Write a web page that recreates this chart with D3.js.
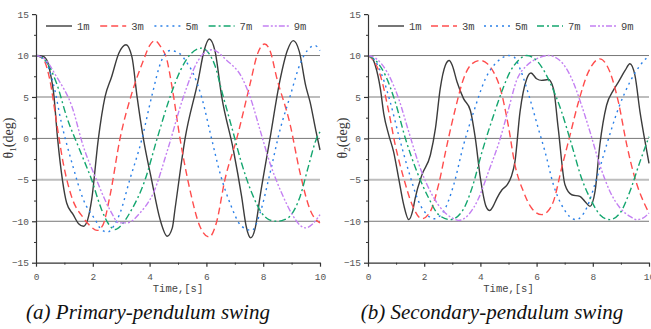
<!DOCTYPE html>
<html>
<head>
<meta charset="utf-8">
<script src="https://cdn.jsdelivr.net/npm/d3@7/dist/d3.min.js"></script>
<style>
  body { margin: 0; background: #fff; }
</style>
</head>
<body>
<svg id="chart" width="651" height="329"></svg>
<script>
// series names + styles
var lengths = ["1m", "3m", "5m", "7m", "9m"];
var colors = ["#3c3c3c", "#ff4d4d", "#2b80e8", "#14a66f", "#c480f2"];
var dashes = [null, "7,4", "2,4", "7,3,2,3", "6,2,2,2,2,2"];

var yTicks = [-15, -10, -5, 0, 5, 10, 15];
var yMinor = [-12.5, -7.5, -2.5, 2.5, 7.5, 12.5];
var xTicks = [0, 2, 4, 6, 8, 10];
var xMinor = [1, 3, 5, 7, 9];
var gridDark = [10, 0, -10];
var gridLight = [5, -5];

// (a) primary pendulum, [time s, angle deg]
var primary1m = [[0,10],[0.25,9.9],[0.4,9.3],[0.52,7.6],[0.62,5.5],[0.76,0],[0.93,-5],[1.08,-7.8],[1.31,-9.2],[1.5,-10.3],[1.67,-10.6],[1.82,-9.8],[1.96,-7.4],[2.19,-0.2],[2.43,5.0],[2.66,7.4],[2.92,10.3],[3.17,11.3],[3.38,9.8],[3.56,5.0],[3.78,0],[4.07,-5],[4.37,-9.8],[4.62,-11.8],[4.8,-10.8],[4.9,-8.4],[5.25,0],[5.71,7.0],[5.92,10.6],[6.1,12.0],[6.3,10.6],[6.54,5],[6.95,-1.4],[7.24,-7],[7.4,-10.6],[7.56,-12],[7.72,-10.8],[7.89,-7],[8.24,0],[8.59,7],[8.85,10.6],[9.06,11.8],[9.27,10.5],[9.5,6.3],[9.65,4.4],[9.85,1],[10,-1.4]];
var primary3m = [[0,10],[0.25,9.6],[0.49,7],[0.73,1.8],[0.96,-3],[1.25,-7],[1.67,-9.6],[1.95,-10.7],[2.15,-11.1],[2.35,-10.5],[2.6,-7],[2.96,0],[3.37,5.4],[3.78,9.4],[4.0,11.2],[4.19,11.8],[4.4,11],[4.6,9.6],[4.8,6],[5.07,0],[5.42,-6.2],[5.77,-10.6],[6.1,-11.9],[6.35,-10.2],[6.65,-5],[7.07,0],[7.54,6.6],[7.8,10.2],[8.05,11.4],[8.25,10.5],[8.47,7.4],[8.94,1.8],[9.3,-4.2],[9.65,-8.6],[9.85,-9.8],[10,-10.2]];
var primary5m = [[0,10],[0.3,9.5],[0.61,6.6],[0.9,1.8],[1.27,-3],[1.67,-7.4],[2.08,-9.8],[2.3,-11],[2.52,-11.3],[2.75,-10.5],[2.96,-9.0],[3.3,-5],[3.72,-0.2],[4.07,5],[4.42,9.4],[4.72,10.6],[5.07,10.2],[5.3,9.2],[5.54,7.8],[5.83,5],[6.18,0],[6.48,-4.2],[6.83,-7.8],[7.24,-10.6],[7.6,-11.1],[7.89,-9],[8.24,-4.2],[8.59,1],[8.94,5],[9.3,9.0],[9.55,10.6],[9.82,11.2],[10,10.6]];
var primary7m = [[0,10],[0.3,9.5],[0.73,6.6],[1.08,2.6],[1.54,-1.4],[1.96,-5],[2.31,-8.6],[2.55,-10.3],[2.78,-11.0],[3.0,-10.5],[3.3,-9],[3.84,-5],[4.25,-0.2],[4.72,5],[5.1,8.3],[5.45,10.2],[5.83,10.9],[6.1,10.2],[6.3,8.8],[6.55,5.6],[6.92,1],[7.24,-3],[7.6,-6.6],[7.95,-9],[8.2,-9.8],[8.47,-10],[8.75,-9.8],[8.94,-9.4],[9.3,-7],[9.59,-3.4],[9.88,0],[10,0.8]];
var primary9m = [[0,10],[0.3,9.6],[0.73,7.4],[1.27,3.8],[1.67,-1],[2.13,-5],[2.6,-8.6],[2.93,-10.2],[3.2,-10.2],[3.66,-9],[4.13,-6.6],[4.65,-1.2],[5.19,5],[5.71,9.4],[6.0,10.5],[6.2,10.7],[6.72,9.4],[7.24,7.4],[7.54,5],[7.89,1],[8.24,-3],[8.65,-6.6],[9.06,-9.4],[9.3,-10.5],[9.5,-10.8],[9.75,-10.3],[10,-9.2]];

// (b) secondary pendulum
var secondary1m = [[0,10],[0.15,9.7],[0.26,8.8],[0.44,6.0],[0.56,3.0],[0.74,0.4],[0.91,-1.6],[1.09,-4.8],[1.27,-8.0],[1.45,-9.8],[1.6,-8.6],[1.68,-7.2],[1.92,-4.4],[2.22,-2.0],[2.4,1.2],[2.57,6.0],[2.75,8.8],[2.89,9.4],[3.0,8.8],[3.17,6.8],[3.4,4.8],[3.64,3.4],[3.82,0],[4.0,-4.8],[4.2,-8.2],[4.33,-8.7],[4.45,-8.2],[4.59,-7.2],[4.77,-6.2],[4.95,-5.6],[5.1,-4.6],[5.23,-2.8],[5.41,3.2],[5.65,7.2],[5.8,7.9],[6.0,7.2],[6.18,7.0],[6.42,7.1],[6.6,6.0],[6.77,1.2],[7.01,-5.6],[7.25,-6.8],[7.54,-7.0],[7.72,-7.6],[7.9,-8.2],[8.08,-6.4],[8.25,-0.8],[8.49,4.0],[8.73,5.8],[8.91,6.8],[9.15,8.2],[9.32,9.0],[9.5,7.6],[9.68,3.2],[9.86,-0.4],[10,-3.0]];
var secondary3m = [[0,10],[0.2,9.4],[0.44,7.6],[0.74,3.2],[0.97,-0.8],[1.27,-4.8],[1.57,-8.0],[1.92,-9.7],[2.22,-8.8],[2.51,-5.6],[2.81,-0.8],[3.11,3.6],[3.4,7.2],[3.7,9.0],[4.0,9.4],[4.25,9.0],[4.47,8.0],[4.71,6.0],[4.99,1.6],[5.23,-3.2],[5.53,-6.4],[5.82,-8.4],[6.18,-9.2],[6.4,-8.8],[6.6,-7.6],[6.89,-3.6],[7.19,0.4],[7.49,4.4],[7.84,8.0],[8.25,9.6],[8.61,8.0],[8.91,4.4],[9.21,-0.8],[9.5,-4.8],[9.8,-7.6],[10,-9.0]];
var secondary5m = [[0,10],[0.25,9.4],[0.5,7.6],[0.79,4.4],[1.09,0.4],[1.45,-4.0],[1.8,-7.6],[2.1,-9.2],[2.34,-9.7],[2.69,-8.8],[3.05,-5.6],[3.4,-0.8],[3.76,3.2],[4.18,7.2],[4.65,9.4],[5.0,10.0],[5.2,9.8],[5.41,8.4],[5.76,4.8],[6.06,1.2],[6.3,-1.6],[6.6,-5.6],[6.95,-8.4],[7.4,-9.8],[7.78,-8.4],[8.14,-4.8],[8.49,-0.8],[8.91,3.6],[9.32,6.8],[9.68,8.8],[10,10.0]];
var secondary7m = [[0,10],[0.3,9.3],[0.62,7.6],[0.97,4.4],[1.33,0],[1.74,-4.0],[2.16,-7.2],[2.51,-9.2],[2.93,-9.8],[3.35,-8.8],[3.7,-6.0],[4.06,-1.6],[4.47,2.8],[4.8,6.0],[5.05,8.0],[5.35,9.4],[5.65,10.0],[6.0,9.4],[6.47,6.8],[6.89,3.2],[7.25,-0.8],[7.6,-4.8],[7.96,-7.6],[8.25,-9.2],[8.61,-9.8],[8.97,-9.0],[9.32,-6.4],[9.68,-2.8],[10,0.2]];
var secondary9m = [[0,10],[0.3,9.6],[0.68,8.0],[1.09,4.8],[1.45,0.8],[1.86,-3.6],[2.28,-6.8],[2.69,-8.8],[2.99,-9.6],[3.23,-9.9],[3.58,-9.2],[3.94,-7.2],[4.29,-4.0],[4.67,-0.4],[4.99,3.4],[5.29,7.0],[5.65,8.8],[6.0,9.6],[6.42,10.0],[6.83,9.4],[7.25,7.2],[7.6,4.0],[7.9,0.8],[8.25,-3.2],[8.61,-6.4],[8.97,-8.4],[9.32,-9.4],[9.56,-9.8],[9.8,-9.6],[10,-9.0]];

var captions = ["(a) Primary-pendulum swing", "(b) Secondary-pendulum swing"];

var svg = d3.select("#chart");
var monoFont = "'Liberation Mono', 'DejaVu Sans Mono', monospace";

function drawPanel(opts) {
  var x = d3.scaleLinear().domain([0, 10]).range([opts.left, opts.right]);
  var y = d3.scaleLinear().domain([-15, 15]).range([262.7, 14.1]);
  var g = svg.append("g");

  // reference lines
  g.selectAll(".gl").data(gridLight).enter().append("line")
    .attr("x1", x(0)).attr("x2", x(10))
    .attr("y1", function (d) { return y(d); }).attr("y2", function (d) { return y(d); })
    .attr("stroke", "#bdbdbd").attr("stroke-width", 2);
  g.selectAll(".gd").data(gridDark).enter().append("line")
    .attr("x1", x(0)).attr("x2", x(10))
    .attr("y1", function (d) { return y(d); }).attr("y2", function (d) { return y(d); })
    .attr("stroke", "#777").attr("stroke-width", 1);

  // curves
  var line = d3.line()
    .x(function (d) { return x(d[0]); })
    .y(function (d) { return y(d[1]); })
    .curve(d3.curveMonotoneX);
  opts.series.forEach(function (s, i) {
    g.append("path")
      .attr("d", line(s))
      .attr("fill", "none")
      .attr("stroke", colors[i])
      .attr("stroke-width", 1.4)
      .attr("stroke-dasharray", dashes[i]);
  });

  // axes
  var yAxis = g.append("g").attr("transform", "translate(" + x(0) + ",0)")
    .call(d3.axisLeft(y).tickValues(yTicks).tickSize(4).tickSizeOuter(0).tickPadding(3));
  g.append("g").attr("transform", "translate(" + x(0) + ",0)")
    .call(d3.axisLeft(y).tickValues(yMinor).tickSize(2).tickFormat("").tickSizeOuter(0))
    .select(".domain").remove();
  var xAxis = g.append("g").attr("transform", "translate(0," + y(-15) + ")")
    .call(d3.axisBottom(x).tickValues(xTicks).tickSize(4).tickSizeOuter(0));
  g.append("g").attr("transform", "translate(0," + y(-15) + ")")
    .call(d3.axisBottom(x).tickValues(xMinor).tickSize(2).tickFormat("").tickSizeOuter(0))
    .select(".domain").remove();
  [yAxis, xAxis].forEach(function (a) {
    a.selectAll("path, line").attr("stroke", "#333").attr("stroke-width", 1.2);
    a.selectAll("text").attr("font-family", monoFont).attr("font-size", 9.5).attr("fill", "#555");
  });
  g.selectAll(".tick line").attr("stroke", "#333");
  xAxis.selectAll("text").attr("y", 11);

  // axis titles
  g.append("text")
    .attr("x", (x(0) + x(10)) / 2).attr("y", 292)
    .attr("text-anchor", "middle")
    .attr("font-family", monoFont).attr("font-size", 10.5).attr("fill", "#444")
    .text("Time,[s]");
  var yl = g.append("text")
    .attr("transform", "translate(" + opts.ylabX + ",138) rotate(-90)")
    .attr("text-anchor", "middle")
    .attr("font-family", "'Liberation Serif', serif").attr("font-size", 14).attr("fill", "#333");
  yl.append("tspan").text("\u03b8");
  yl.append("tspan").attr("font-size", 9).attr("dy", 3).text(opts.sub);
  yl.append("tspan").attr("dy", -3).text("(deg)");

  // legend
  lengths.forEach(function (name, i) {
    var lx = opts.legX + i * opts.legStep;
    g.append("line")
      .attr("x1", lx).attr("x2", lx + 26).attr("y1", 26).attr("y2", 26)
      .attr("stroke", colors[i]).attr("stroke-width", 1.4)
      .attr("stroke-dasharray", dashes[i]);
    g.append("text")
      .attr("x", lx + 31).attr("y", 30)
      .attr("font-family", monoFont).attr("font-size", 10.5).attr("fill", "#444")
      .text(name);
  });

  // caption
  svg.append("text")
    .attr("x", opts.capX).attr("y", 319)
    .attr("text-anchor", "middle")
    .attr("font-family", "'Liberation Serif', 'DejaVu Serif', serif")
    .attr("font-style", "italic").attr("font-size", 21).attr("fill", "#111")
    .text(opts.caption);
}

drawPanel({
  left: 36, right: 320, ylabX: 13, sub: "1",
  series: [primary1m, primary3m, primary5m, primary7m, primary9m],
  legX: 46, legStep: 54.2, capX: 148, caption: captions[0]
});
drawPanel({
  left: 368, right: 649, ylabX: 347, sub: "2",
  series: [secondary1m, secondary3m, secondary5m, secondary7m, secondary9m],
  legX: 378, legStep: 53, capX: 492, caption: captions[1]
});
</script>
</body>
</html>
